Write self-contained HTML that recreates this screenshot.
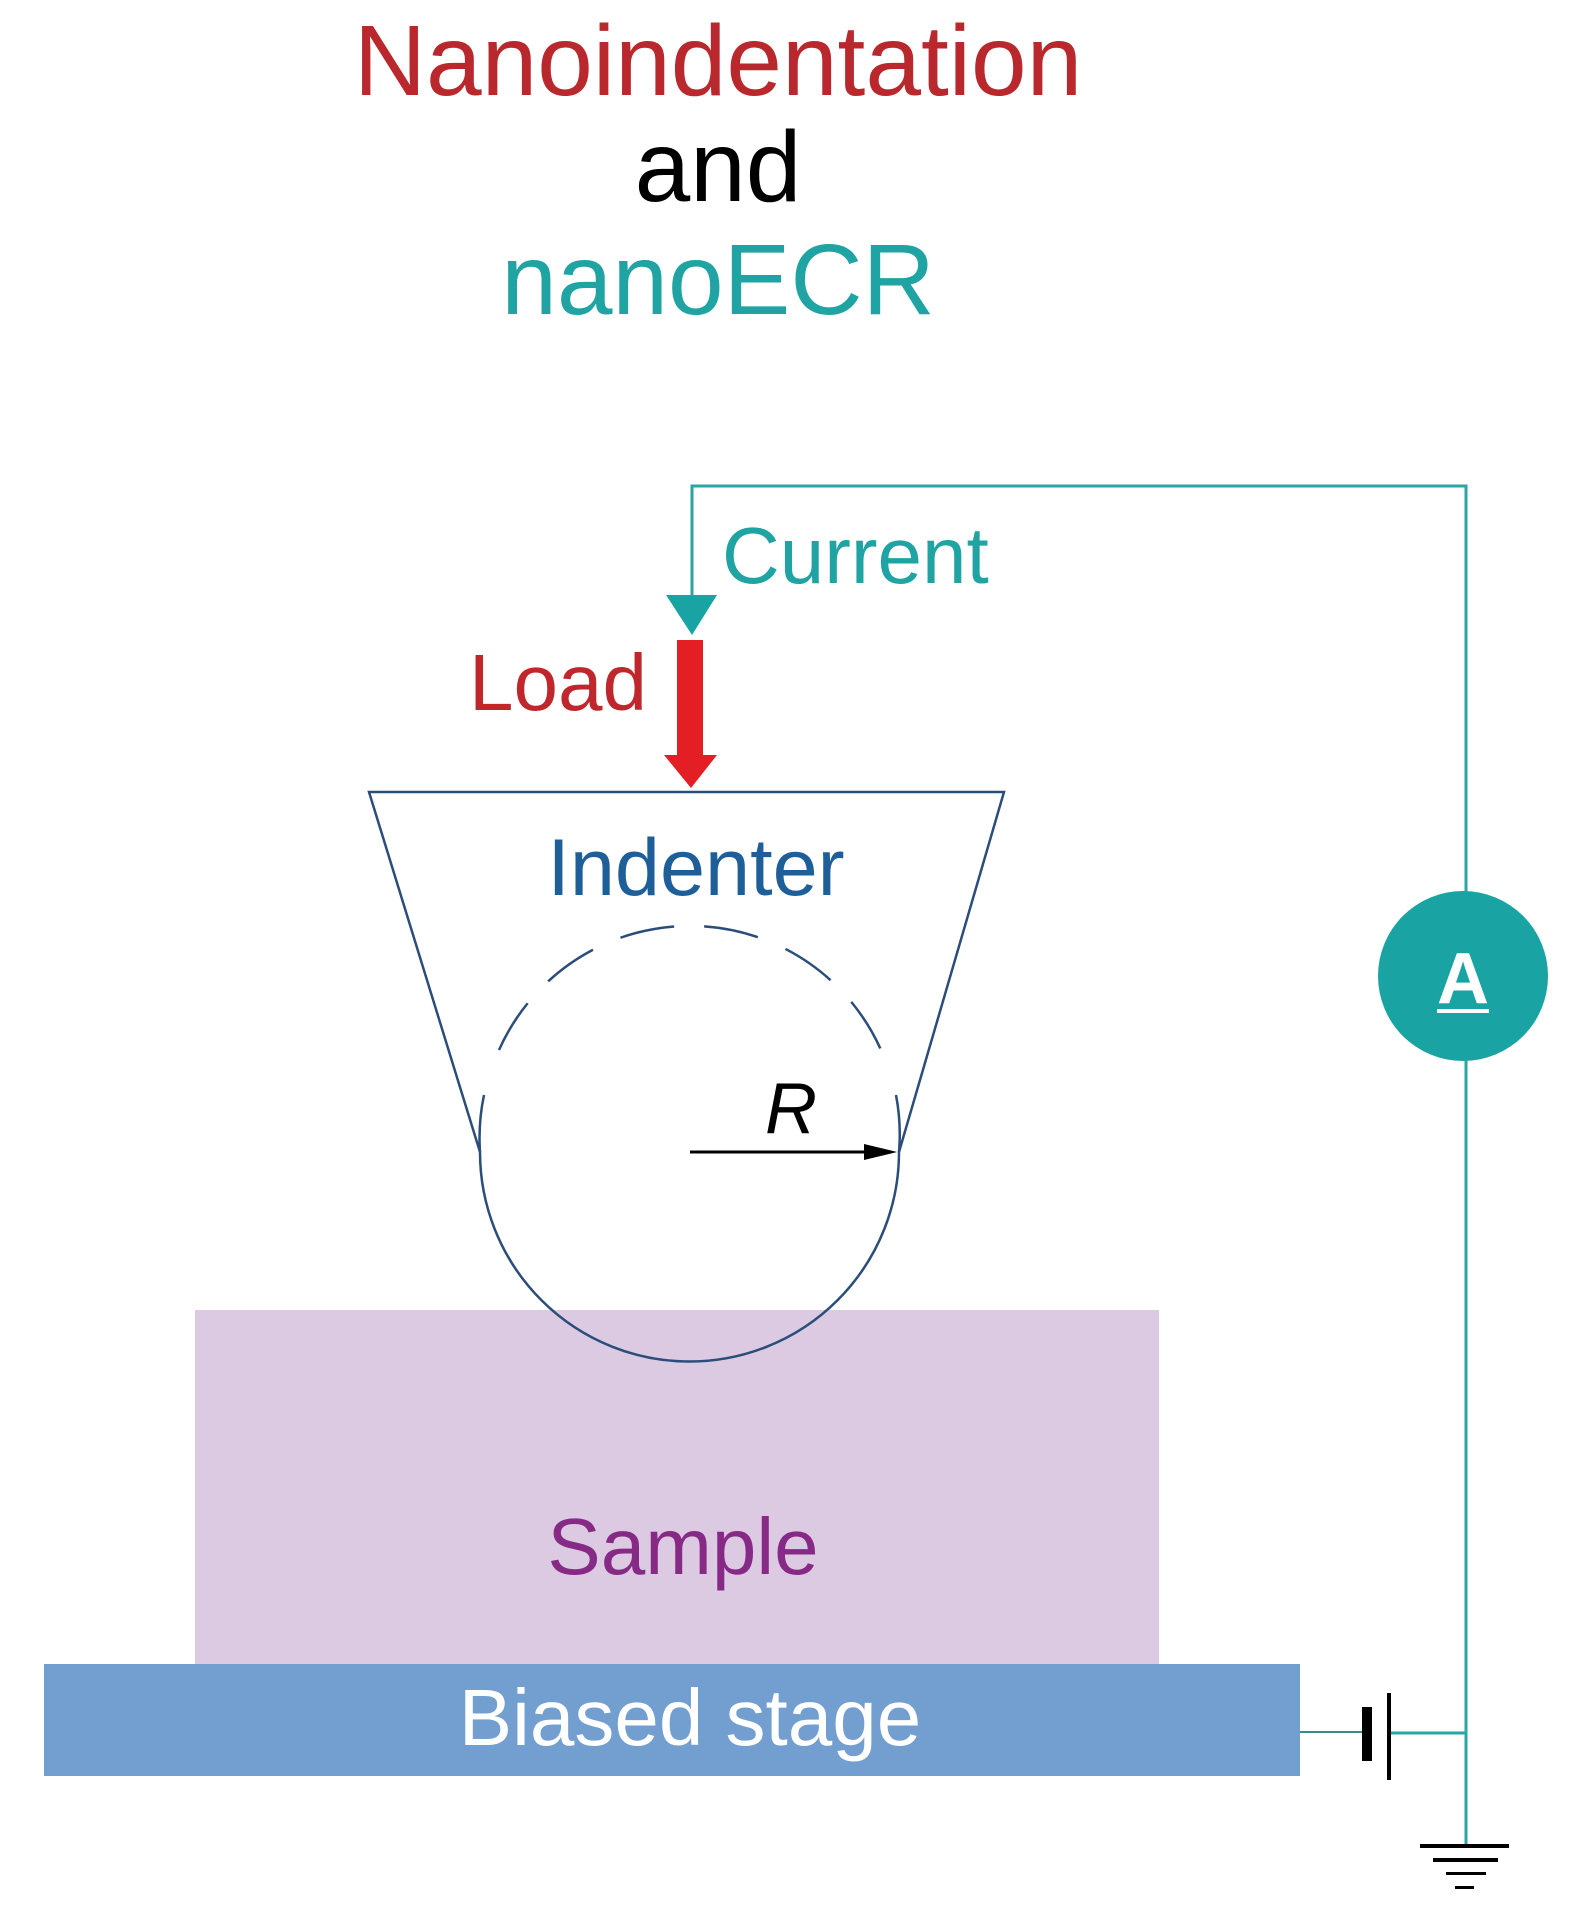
<!DOCTYPE html>
<html><head><meta charset="utf-8"><style>
html,body{margin:0;padding:0;background:#fff;}
svg{display:block;}
text{font-family:"Liberation Sans",sans-serif;}
</style></head><body>
<svg width="1572" height="1921" viewBox="0 0 1572 1921" xmlns="http://www.w3.org/2000/svg">
<text x="718" y="95" font-size="100" fill="#b8282c" text-anchor="middle">Nanoindentation</text>
<text x="718" y="201" font-size="100" fill="#000" text-anchor="middle">and</text>
<text x="718" y="314" font-size="100" fill="#1fa3a3" text-anchor="middle">nanoECR</text>
<polyline points="692,597 692,486 1466,486 1466,1845" fill="none" stroke="#2aa6a6" stroke-width="3"/>
<polygon points="666,595 717,595 692,635" fill="#1aa3a3"/>
<text x="722" y="583" font-size="80" fill="#1fa3a3">Current</text>
<rect x="677" y="640" width="26" height="117" fill="#e31e24"/>
<polygon points="664,755 717,755 691,788" fill="#e31e24"/>
<text x="647" y="710" font-size="80" fill="#c0272d" text-anchor="end">Load</text>
<rect x="195" y="1310" width="964" height="354" fill="#dccae2"/>
<text x="683" y="1574" font-size="80" fill="#862a86" text-anchor="middle">Sample</text>
<path d="M499,1050 A209 209 0 0 1 881,1050" fill="none" stroke="#2b4d7a" stroke-width="2.5" stroke-dasharray="55,30"/>
<path d="M369,792 L1004,792 L899,1152 A209 209 0 0 1 480,1152 Z" fill="none" stroke="#2b4d7a" stroke-width="2.5"/>
<path d="M480,1152 A209 209 0 0 1 484,1095" fill="none" stroke="#2b4d7a" stroke-width="2.5"/>
<path d="M899,1152 A209 209 0 0 0 896,1095" fill="none" stroke="#2b4d7a" stroke-width="2.5"/>
<text x="696" y="895" font-size="81" fill="#1f5f99" text-anchor="middle">Indenter</text>
<text x="791" y="1133" font-size="72" font-style="italic" fill="#000" text-anchor="middle">R</text>
<line x1="690" y1="1152" x2="870" y2="1152" stroke="#000" stroke-width="3"/>
<polygon points="864,1144 897,1152 864,1160" fill="#000"/>
<rect x="44" y="1664" width="1256" height="112" fill="#729fcf"/>
<text x="690" y="1745" font-size="80" fill="#fff" text-anchor="middle">Biased stage</text>
<line x1="1300" y1="1732" x2="1362" y2="1732" stroke="#3a8a8a" stroke-width="2"/>
<rect x="1362" y="1707" width="10" height="54" fill="#000"/>
<rect x="1387" y="1693" width="4" height="87" fill="#000"/>
<line x1="1391" y1="1733" x2="1466" y2="1733" stroke="#2aa6a6" stroke-width="3"/>
<rect x="1420" y="1844" width="89" height="4" fill="#000"/>
<rect x="1433" y="1858" width="65" height="4" fill="#000"/>
<rect x="1446" y="1872" width="40" height="3" fill="#000"/>
<rect x="1455" y="1886" width="19" height="3" fill="#000"/>
<circle cx="1463" cy="976" r="85" fill="#1aa3a3"/>
<text x="1463" y="1003" font-size="72" font-weight="bold" fill="#fff" text-anchor="middle">A</text>
<rect x="1437" y="1009" width="52" height="4" fill="#fff"/>
</svg>
</body></html>
